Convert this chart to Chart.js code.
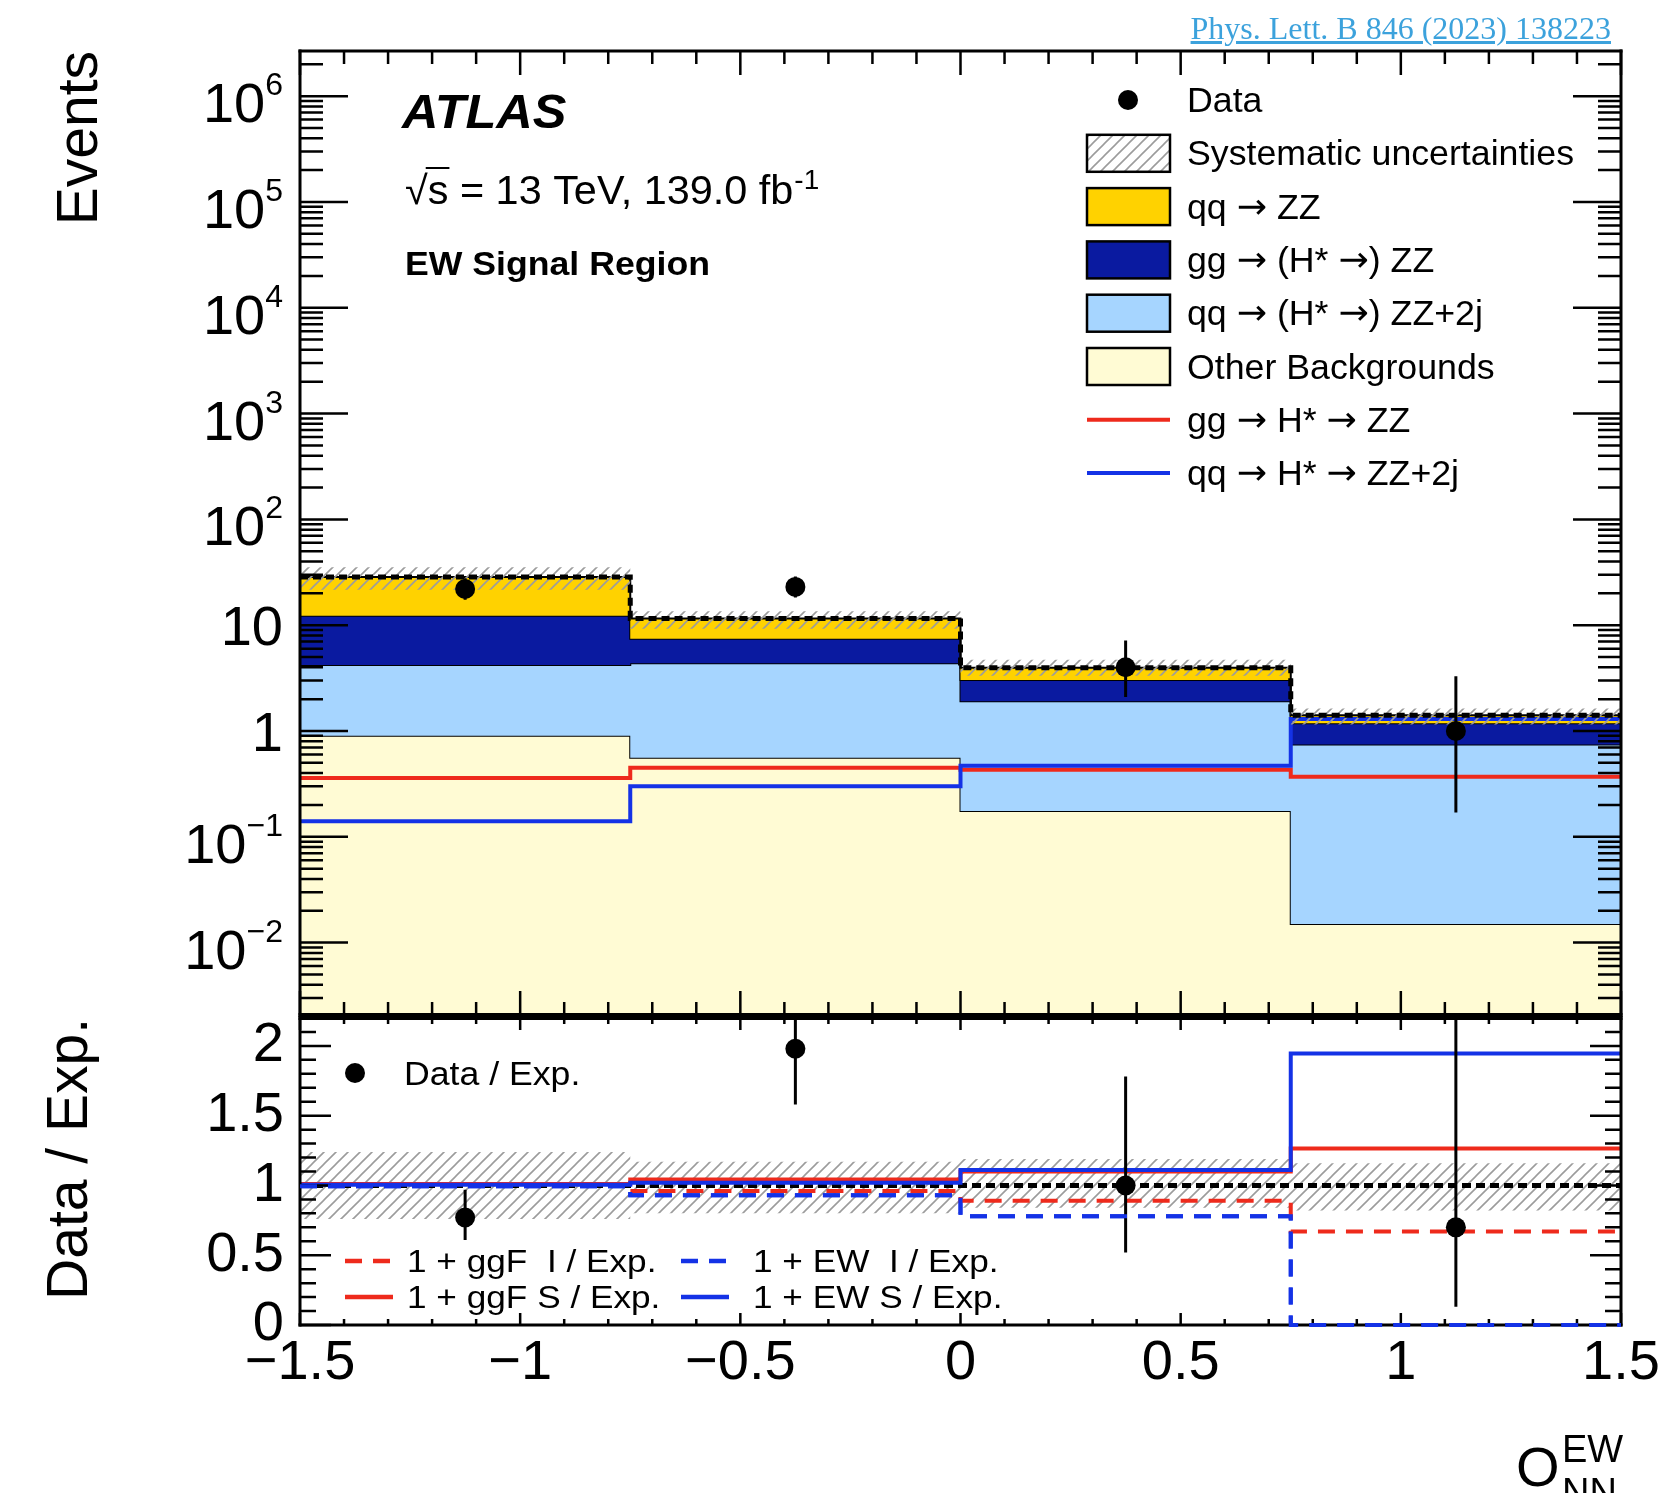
<!DOCTYPE html>
<html><head><meta charset="utf-8">
<script src="https://cdn.jsdelivr.net/npm/chart.js@4.4.1/dist/chart.umd.min.js"></script>
<style>
html,body{margin:0;padding:0;background:#fff;}
#wrap{position:relative;width:1665px;height:1493px;overflow:hidden;background:#fff;}
canvas{position:absolute;left:0;top:0;}
#ref{position:absolute;right:54px;top:12px;font:32px 'Liberation Serif','Times New Roman',serif;color:#3ca2dc;text-decoration:underline;line-height:32px;white-space:nowrap;}
</style></head><body>
<div id="wrap">
<canvas id="main" width="1665" height="1493"></canvas>
<canvas id="ratio" width="1665" height="1493"></canvas>
<div id="ref">Phys. Lett. B 846 (2023) 138223</div>
</div>
<script>
// ---------------- data ----------------
const binEdges   = [-1.5, -0.75, 0, 0.75, 1.5];
const binCenters = [-1.125, -0.375, 0.375, 1.125];
const otherBkg   = [0.90, 0.56, 0.175, 0.015];   // Other Backgrounds
const qqZZ2j     = [3.3, 3.8, 1.74, 0.73];       // qq -> (H* ->) ZZ+2j
const ggZZ       = [8.1, 3.1, 1.12, 0.44];       // gg -> (H* ->) ZZ
const qqZZ       = [16.2, 4.1, 0.93, 0.22];      // qq -> ZZ
const ggHstarS   = [0.36, 0.45, 0.43, 0.37];     // gg -> H* -> ZZ
const ewHstarS   = [0.14, 0.30, 0.47, 1.3];      // qq -> H* -> ZZ+2j
const dataCounts = [22, 23, 4, 1];
const dataErrLow = [17.4, 18.3, 2.09, 0.17];
const dataErrHigh= [27.8, 28.9, 7.16, 3.30];
const sysUpRel   = [0.24, 0.17, 0.19, 0.16];
const sysDownRel = [0.24, 0.20, 0.16, 0.18];
const ratioData    = [0.77, 1.98, 1.00, 0.70];
const ratioErrLow  = [0.61, 1.58, 0.52, 0.13];
const ratioErrHigh = [0.97, 2.50, 1.78, 3.30];
const ratioUnity   = [1, 1, 1, 1];
const ratioGgfI    = [1.00, 0.96, 0.89, 0.67];
const ratioGgfS    = [1.01, 1.043, 1.10, 1.265];
const ratioEwI     = [0.995, 0.93, 0.78, 0.0];
const ratioEwS     = [1.005, 1.02, 1.11, 1.945];
const xTickValues  = [-1.5, -1, -0.5, 0, 0.5, 1, 1.5];
const xTickLabels  = ['\u22121.5', '\u22121', '\u22120.5', '0', '0.5', '1', '1.5'];
const mainYTickValues = [1e-2, 1e-1, 1, 10, 1e2, 1e3, 1e4, 1e5, 1e6];
const mainYTickLabels = [['10','\u22122'],['10','\u22121'],['1',''],['10',''],['10','2'],['10','3'],['10','4'],['10','5'],['10','6']];
const ratioYTickValues = [0, 0.5, 1, 1.5, 2];
const ratioYTickLabels = ['0', '0.5', '1', '1.5', '2'];
const MAIN_YMIN = 2.07e-3, MAIN_YMAX = 2.67e6;
const RATIO_YMIN = 0, RATIO_YMAX = 2.2;

// ---------------- styling ----------------
const FONT = "'Liberation Sans', Arial, Helvetica, sans-serif";
const ARROW_FONT = "'DejaVu Sans', sans-serif";
Chart.defaults.font.family = FONT;
Chart.defaults.color = '#000';
const C = { other:'#FFFBD4', lblue:'#A6D5FF', dblue:'#0A1AA0', yellow:'#FFD200',
            red:'#EE2A1C', blue:'#1432E6', hatch:'#9C9C9C' };
const NONE = 'rgba(0,0,0,0)';
function makeHatch(){
  const s = 12, c = document.createElement('canvas'); c.width = s; c.height = s;
  const g = c.getContext('2d');
  g.strokeStyle = C.hatch; g.lineWidth = 1.6; g.beginPath();
  g.moveTo(0, s); g.lineTo(s, 0);
  g.moveTo(-s/2, s/2); g.lineTo(s/2, -s/2);
  g.moveTo(s/2, s*1.5); g.lineTo(s*1.5, s/2);
  g.stroke();
  return g.createPattern(c, 'repeat');
}
const hatch = makeHatch();

// table builders
const sumOf = (...arrs) => arrs[0].map((_, i) => arrs.reduce((s, a) => s + a[i], 0));
const cum1 = otherBkg;
const cum2 = sumOf(otherBkg, qqZZ2j);
const cum3 = sumOf(otherBkg, qqZZ2j, ggZZ);
const cum4 = sumOf(otherBkg, qqZZ2j, ggZZ, qqZZ);
const sysHi = cum4.map((v, i) => v * (1 + sysUpRel[i]));
const sysLo = cum4.map((v, i) => v * (1 - sysDownRel[i]));
const ratioSysHi = sysUpRel.map(u => 1 + u);
const ratioSysLo = sysDownRel.map(d => 1 - d);
const step = vals => binEdges.map((e, i) => ({ x: e, y: vals[Math.min(i, vals.length - 1)] }));
const pts  = vals => binCenters.map((c, i) => ({ x: c, y: vals[i] }));

function finalize(ds){
  ds.forEach((d, i) => {
    d.order = 100 - i;
    if (d.stepped === undefined) d.stepped = true;
    if (d.pointRadius === undefined) d.pointRadius = 0;
    d.pointHoverRadius = d.pointRadius;
    if (d.fill === undefined) d.fill = false;
  });
  return ds;
}

const mainDatasets = finalize([
  { label:'Other Backgrounds', data:step(cum1), fill:'start', backgroundColor:C.other, borderColor:'#000', borderWidth:2 },
  { label:'qq \u2192 (H* \u2192) ZZ+2j', data:step(cum2), fill:'-1', backgroundColor:C.lblue, borderColor:'#000', borderWidth:2 },
  { label:'gg \u2192 (H* \u2192) ZZ', data:step(cum3), fill:'-1', backgroundColor:C.dblue, borderColor:'#000', borderWidth:2 },
  { label:'qq \u2192 ZZ', data:step(cum4), fill:'-1', backgroundColor:C.yellow, borderColor:'#000', borderWidth:2 },
  { label:'gg \u2192 H* \u2192 ZZ', data:step(ggHstarS), borderColor:C.red, borderWidth:4 },
  { label:'qq \u2192 H* \u2192 ZZ+2j', data:step(ewHstarS), borderColor:C.blue, borderWidth:4 },
  { label:'sysLow', data:step(sysLo), borderColor:NONE, borderWidth:0 },
  { label:'Systematic uncertainties', data:step(sysHi), fill:'-1', backgroundColor:hatch, borderColor:NONE, borderWidth:0 },
  { label:'Total', data:step(cum4), borderColor:'#000', borderWidth:5, borderDash:[8,5] },
  { label:'Data', data:pts(dataCounts), showLine:false, stepped:false, pointRadius:10, pointBackgroundColor:'#000', pointBorderColor:'#000', pointBorderWidth:0 }
]);

const ratioDatasets = finalize([
  { label:'sysLow', data:step(ratioSysLo), borderColor:NONE, borderWidth:0 },
  { label:'sysHigh', data:step(ratioSysHi), fill:'-1', backgroundColor:hatch, borderColor:NONE, borderWidth:0 },
  { label:'Unity', data:step(ratioUnity), borderColor:'#000', borderWidth:5, borderDash:[9,5] },
  { label:'1 + EW  I / Exp.', data:step(ratioEwI), borderColor:C.blue, borderWidth:4, borderDash:[17,11] },
  { label:'1 + ggF  I / Exp.', data:step(ratioGgfI), borderColor:C.red, borderWidth:4, borderDash:[17,11] },
  { label:'1 + ggF S / Exp.', data:step(ratioGgfS), borderColor:C.red, borderWidth:4 },
  { label:'1 + EW S / Exp.', data:step(ratioEwS), borderColor:C.blue, borderWidth:4 },
  { label:'Data / Exp.', data:pts(ratioData), showLine:false, stepped:false, pointRadius:10, pointBackgroundColor:'#000', pointBorderColor:'#000', pointBorderWidth:0 }
]);

// ---------------- helpers ----------------
function range(a, b, st){ const r = []; for (let v = a; v <= b + 1e-9; v += st) r.push(Math.round(v * 1000) / 1000); return r; }
const xMinorVals = range(-1.5, 1.5, 0.1);
const mainYMinorVals = [];
for (let e = -3; e <= 6; e++) for (let k = 2; k <= 9; k++) { const v = k * Math.pow(10, e); if (v > MAIN_YMIN && v < MAIN_YMAX) mainYMinorVals.push(v); }
const ratioYMinorVals = range(0.1, 2.2, 0.1);

function drawTicks(chart, spec){
  const { ctx, chartArea:a } = chart, xs = chart.scales.x, ys = chart.scales.y;
  ctx.save(); ctx.strokeStyle = '#000'; ctx.lineWidth = 2.5; ctx.beginPath();
  const vt = (v, len) => { const p = xs.getPixelForValue(v); ctx.moveTo(p, a.bottom); ctx.lineTo(p, a.bottom - len); ctx.moveTo(p, a.top); ctx.lineTo(p, a.top + len); };
  const ht = (v, len) => { const p = ys.getPixelForValue(v); ctx.moveTo(a.left, p); ctx.lineTo(a.left + len, p); ctx.moveTo(a.right, p); ctx.lineTo(a.right - len, p); };
  spec.xMinor.forEach(v => vt(v, spec.xMinorLen));
  spec.xMajor.forEach(v => vt(v, spec.xMajorLen));
  spec.yMinor.forEach(v => ht(v, spec.yMinorLen));
  spec.yMajor.forEach(v => ht(v, spec.yMajorLen));
  ctx.stroke();
  const line = (x1, y1, x2, y2, w) => { ctx.lineWidth = w; ctx.beginPath(); ctx.moveTo(x1, y1); ctx.lineTo(x2, y2); ctx.stroke(); };
  line(a.left, a.top - 1.5, a.left, a.bottom + 1.5, 3);
  line(a.right, a.top - 1.5, a.right, a.bottom + 1.5, 3);
  line(a.left - 1.5, a.top, a.right + 1.5, a.top, spec.topW);
  line(a.left - 1.5, a.bottom, a.right + 1.5, a.bottom, spec.botW);
  ctx.restore();
}
function drawErrorBars(chart, lo, hi){
  const { ctx, chartArea:a } = chart, xs = chart.scales.x, ys = chart.scales.y;
  ctx.save(); ctx.beginPath(); ctx.rect(a.left, a.top, a.right - a.left, a.bottom - a.top); ctx.clip();
  ctx.strokeStyle = '#000'; ctx.lineWidth = 3; ctx.beginPath();
  binCenters.forEach((c, i) => { const px = xs.getPixelForValue(c); ctx.moveTo(px, ys.getPixelForValue(lo[i])); ctx.lineTo(px, ys.getPixelForValue(hi[i])); });
  ctx.stroke(); ctx.restore();
}
// text with optional horizontal stretch
function txt(ctx, s, x, y, font, align, sx){
  ctx.save(); ctx.translate(x, y); ctx.scale(sx || 1, 1);
  ctx.font = font; ctx.textAlign = align || 'left'; ctx.textBaseline = 'alphabetic'; ctx.fillStyle = '#000';
  ctx.fillText(s, 0, 0); ctx.restore();
}
// text where arrows are taken from DejaVu Sans (longer arrow like ROOT's #rightarrow)
function richTxt(ctx, s, x, y, size, sx){
  sx = sx || 1;
  ctx.save(); ctx.translate(x, y); ctx.scale(sx, 1);
  ctx.textAlign = 'left'; ctx.textBaseline = 'alphabetic'; ctx.fillStyle = '#000';
  let cx = 0;
  s.split(/(\u2192)/).forEach(part => {
    if (!part) return;
    if (part === '\u2192') { ctx.font = Math.round(size) + 'px ' + ARROW_FONT; ctx.fillText(part, cx, -1); cx += ctx.measureText(part).width; }
    else { ctx.font = size + 'px ' + FONT; ctx.fillText(part, cx, 0); cx += ctx.measureText(part).width; }
  });
  ctx.restore();
}

const mainDecor = {
  id:'mainDecor',
  afterDatasetsDraw(chart){ drawErrorBars(chart, dataErrLow, dataErrHigh); },
  afterDraw(chart){
    const ctx = chart.ctx, ys = chart.scales.y;
    drawTicks(chart, { xMajor:xTickValues, xMinor:xMinorVals, xMajorLen:24, xMinorLen:13,
      yMajor:mainYTickValues, yMinor:mainYMinorVals, yMajorLen:48, yMinorLen:23, topW:3, botW:4 });
    // y tick labels with superscripts
    const xr = 283;
    mainYTickValues.forEach((v, i) => {
      const py = ys.getPixelForValue(v); const [base, sup] = mainYTickLabels[i];
      if (!sup) { txt(ctx, base, xr, py + 20, '56px ' + FONT, 'right'); return; }
      ctx.font = '32px ' + FONT; const ws = ctx.measureText(sup).width;
      txt(ctx, sup, xr, py - 1, '32px ' + FONT, 'right');
      txt(ctx, base, xr - ws, py + 26, '56px ' + FONT, 'right');
    });
    // labels
    txt(ctx, 'ATLAS', 402, 128, 'italic bold 49px ' + FONT, 'left', 1.03);
    const SX = 1.035;
    ctx.font = '40px ' + FONT;
    const wRad = ctx.measureText('\u221A').width * SX, wRs = ctx.measureText('\u221As').width * SX;
    const main1 = '\u221As = 13 TeV, 139.0 fb';
    const w1 = ctx.measureText(main1).width * SX;
    txt(ctx, main1, 405, 204, '40px ' + FONT, 'left', SX);
    ctx.save(); ctx.strokeStyle = '#000'; ctx.lineWidth = 2; ctx.beginPath(); ctx.moveTo(405 + wRad - 2, 168); ctx.lineTo(405 + wRs + 1, 168); ctx.stroke(); ctx.restore();
    txt(ctx, '-1', 405 + w1 + 1, 189, '27px ' + FONT, 'left', SX);
    txt(ctx, 'EW Signal Region', 405, 275, 'bold 33px ' + FONT, 'left', 1.08);
    // legend
    const ds = chart.data.datasets;
    const items = [
      { kind:'marker', label:ds[9].label },
      { kind:'box', fill:hatch, label:ds[7].label },
      { kind:'box', fill:C.yellow, label:ds[3].label },
      { kind:'box', fill:C.dblue, label:ds[2].label },
      { kind:'box', fill:C.lblue, label:ds[1].label },
      { kind:'box', fill:C.other, label:ds[0].label },
      { kind:'line', color:C.red, label:ds[4].label },
      { kind:'line', color:C.blue, label:ds[5].label }
    ];
    const x0 = 1087, x1 = 1170, tx = 1187;
    items.forEach((it, k) => {
      const y = 100 + k * 53.3;
      ctx.save();
      if (it.kind === 'marker') { ctx.fillStyle = '#000'; ctx.beginPath(); ctx.arc((x0 + x1) / 2 - 0.5, y, 10, 0, 2 * Math.PI); ctx.fill(); }
      else if (it.kind === 'box') { ctx.fillStyle = '#fff'; ctx.fillRect(x0, y - 18.5, x1 - x0, 37); ctx.fillStyle = it.fill; ctx.fillRect(x0, y - 18.5, x1 - x0, 37); ctx.strokeStyle = '#000'; ctx.lineWidth = 2.5; ctx.strokeRect(x0, y - 18.5, x1 - x0, 37); }
      else { ctx.strokeStyle = it.color; ctx.lineWidth = 4; ctx.beginPath(); ctx.moveTo(x0, y); ctx.lineTo(x1, y); ctx.stroke(); }
      ctx.restore();
      richTxt(ctx, it.label, tx, y + 12, 34.5, 1.035);
    });
  }
};

const ratioDecor = {
  id:'ratioDecor',
  afterDatasetsDraw(chart){ drawErrorBars(chart, ratioErrLow, ratioErrHigh); },
  afterDraw(chart){
    const ctx = chart.ctx, ds = chart.data.datasets;
    drawTicks(chart, { xMajor:xTickValues, xMinor:xMinorVals, xMajorLen:12, xMinorLen:6,
      yMajor:ratioYTickValues, yMinor:ratioYMinorVals, yMajorLen:31, yMinorLen:16, topW:4, botW:3 });
    // the EW interference line lies on the lower frame in the last bin: draw it over the frame
    ctx.save(); chart.getDatasetMeta(3).dataset.draw(ctx, chart.chartArea); ctx.restore();
    // Data / Exp legend
    ctx.save(); ctx.fillStyle = '#000'; ctx.beginPath(); ctx.arc(355, 1073, 10, 0, 2 * Math.PI); ctx.fill(); ctx.restore();
    txt(ctx, ds[7].label, 404, 1085, '33px ' + FONT, 'left', 1.08);
    // lower legend
    const entries = [
      { x:345, tx:407, y:1261, color:C.red, dash:[17,11], label:ds[4].label },
      { x:681, tx:753, y:1261, color:C.blue, dash:[17,11], label:ds[3].label },
      { x:345, tx:407, y:1297, color:C.red, dash:[], label:ds[5].label },
      { x:681, tx:753, y:1297, color:C.blue, dash:[], label:ds[6].label }
    ];
    entries.forEach(e => {
      ctx.save(); ctx.strokeStyle = e.color; ctx.lineWidth = 4.5; ctx.setLineDash(e.dash);
      ctx.beginPath(); ctx.moveTo(e.x, e.y); ctx.lineTo(e.x + 48, e.y); ctx.stroke(); ctx.restore();
      txt(ctx, e.label, e.tx, e.y + 11, '32px ' + FONT, 'left', 1.1);
    });
    // x-axis title
    txt(ctx, 'O', 1516, 1486, '56px ' + FONT);
    txt(ctx, 'EW', 1562, 1462, '38px ' + FONT);
    txt(ctx, 'NN', 1562, 1505, '38px ' + FONT);
  }
};

const common = { responsive:false, animation:false, devicePixelRatio:1,
  plugins:{ legend:{display:false}, tooltip:{enabled:false} },
  elements:{ line:{ tension:0 }, point:{ radius:0, hoverRadius:0 } }, events:[] };

new Chart(document.getElementById('main'), {
  type:'line',
  data:{ datasets:mainDatasets },
  options:Object.assign({}, common, {
    layout:{ padding:{ left:0, top:51, right:44, bottom:478 } },
    scales:{
      x:{ type:'linear', min:-1.5, max:1.5, bounds:'data', ticks:{display:false}, grid:{display:false, drawTicks:false}, border:{display:false}, afterFit:s => { s.height = 0; } },
      y:{ type:'logarithmic', min:MAIN_YMIN, max:MAIN_YMAX, bounds:'data', ticks:{display:false}, grid:{display:false, drawTicks:false}, border:{display:false},
          title:{ display:true, text:'Events', align:'end', color:'#000', font:{ size:57 }, padding:{ top:47, bottom:0 } },
          afterFit:s => { s.width = 300; } }
    }
  }),
  plugins:[mainDecor]
});

new Chart(document.getElementById('ratio'), {
  type:'line',
  data:{ datasets:ratioDatasets },
  options:Object.assign({}, common, {
    layout:{ padding:{ left:0, top:1018, right:44, bottom:68 } },
    scales:{
      x:{ type:'linear', min:-1.5, max:1.5, bounds:'data',
          afterBuildTicks:s => { s.ticks = xTickValues.map(v => ({ value:v })); },
          ticks:{ autoSkip:false, maxRotation:0, minRotation:0, padding:5, color:'#000', font:{ size:56 }, callback:(v, i) => xTickLabels[i] },
          grid:{display:false, drawTicks:false}, border:{display:false}, afterFit:s => { s.height = 100; } },
      y:{ type:'linear', min:RATIO_YMIN, max:RATIO_YMAX, bounds:'data',
          afterBuildTicks:s => { s.ticks = ratioYTickValues.map(v => ({ value:v })); },
          ticks:{ autoSkip:false, padding:16, color:'#000', font:{ size:56 }, callback:(v, i) => ratioYTickLabels[i] },
          grid:{display:false, drawTicks:false}, border:{display:false},
          title:{ display:true, text:'Data / Exp.', align:'end', color:'#000', font:{ size:57 }, padding:{ top:37, bottom:0 } },
          afterFit:s => { s.width = 300; } }
    }
  }),
  plugins:[ratioDecor]
});
</script>
</body></html>
